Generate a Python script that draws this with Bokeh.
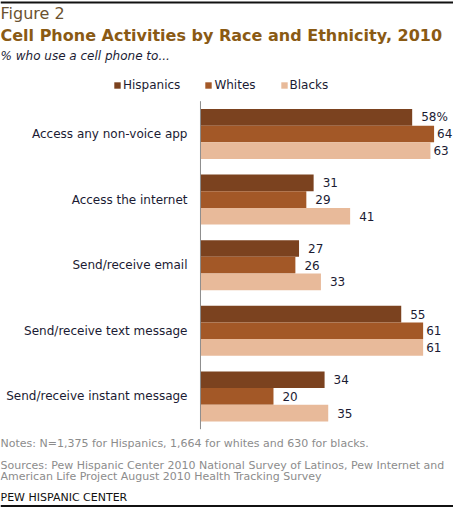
from bokeh.core.properties import value
from bokeh.embed import file_html
from bokeh.models import (ColumnDataSource, Label, Legend, LegendItem, Range1d,
                          Span)
from bokeh.plotting import figure
from bokeh.resources import INLINE

activities = [
    "Access any non-voice app",
    "Access the internet",
    "Send/receive email",
    "Send/receive text message",
    "Send/receive instant message",
]
series = ["Hispanics", "Whites", "Blacks"]
hispanics = [58, 31, 27, 55, 34]
whites = [64, 29, 26, 61, 20]
blacks = [63, 41, 33, 61, 35]
colors = ["#7b421f", "#a35827", "#e8ba9a"]

FONT = "DejaVu Sans"
TEXT = "#1b1b33"
W, H = 453, 508
Y_TOP, Y_BOTTOM = -2.035, 5.709   # data y at the canvas top / bottom edge
PX = H / (Y_BOTTOM - Y_TOP)       # pixels per group

# frame fills the whole canvas; 0% sits 200px from the left edge
p = figure(
    width=W, height=H,
    x_range=Range1d(-54.79, 69.32),
    y_range=Range1d(Y_BOTTOM, Y_TOP),
    output_backend="svg", toolbar_location=None,
    min_border=0, x_axis_location=None, y_axis_location=None,
)
p.grid.visible = False
p.outline_line_color = None

bar_h = 0.254
renderers = []
for i, (name, vals) in enumerate(zip(series, [hispanics, whites, blacks])):
    ypos = [k + (i - 1) * bar_h for k in range(len(activities))]
    labels = [f"{v}%" if (i == 0 and k == 0) else str(v) for k, v in enumerate(vals)]
    offs = [9 if v < 60 else 3 for v in vals]
    src = ColumnDataSource(dict(y=ypos, v=vals, lab=labels, off=offs))
    r = p.hbar(y="y", right="v", left=0, height=bar_h, source=src,
               fill_color=colors[i], line_color=None)
    renderers.append(r)
    p.text(x="v", y="y", text="lab", source=src, x_offset="off",
           text_font=value(FONT), text_font_size="12px", text_color=TEXT,
           text_baseline="middle", text_align="left")

# category axis: line at 0 and right-aligned labels
n = len(activities)
p.segment(x0=[0], y0=[-0.5], x1=[0], y1=[n - 0.5], line_color="#8c8c8c", line_width=1)
cat_src = ColumnDataSource(dict(x=[0] * n, y=list(range(n)), t=activities))
p.text(x="x", y="y", text="t", source=cat_src, x_offset=-13,
       text_font=value(FONT), text_font_size="12px", text_color=TEXT,
       text_baseline="middle", text_align="right")

legend = Legend(
    items=[LegendItem(label=s, renderers=[r]) for s, r in zip(series, renderers)],
    orientation="horizontal", location=(113, 416),
    glyph_width=8, glyph_height=8, label_standoff=2, spacing=24,
    label_text_font=FONT, label_text_font_size="12px", label_text_color=TEXT,
    label_height=12, padding=0, margin=0,
    border_line_color=None, background_fill_alpha=0,
)
p.add_layout(legend, "center")


def put(text, cx, cy, size, color, style="normal"):
    # cx, cy: canvas pixels from the top-left corner
    p.add_layout(Label(
        x=cx, y=H - cy, x_units="screen", y_units="screen",
        text=text, text_font=FONT, text_font_size=size, text_color=color,
        text_font_style=style, text_baseline="middle", text_align="left"))


put("Figure 2", 0, 13, "16px", "#6b5230")
put("Cell Phone Activities by Race and Ethnicity, 2010", 0, 35, "16px", "#8a5a14", "bold")
put("% who use a cell phone to...", 0, 55, "12px", TEXT, "italic")
put("Notes: N=1,375 for Hispanics, 1,664 for whites and 630 for blacks.", 0, 443, "11px", "#8c8c8c")
put("Sources: Pew Hispanic Center 2010 National Survey of Latinos, Pew Internet and", 0, 465, "11px", "#8c8c8c")
put("American Life Project August 2010 Health Tracking Survey", 0, 476, "11px", "#8c8c8c")
put("PEW HISPANIC CENTER", 0, 497, "11px", "#111111")

# rules above the figure label and under the credit line
for cy in (2, H - 2.5):
    p.add_layout(Span(location=Y_TOP + cy / PX, dimension="width",
                      line_color="#111111", line_width=2, level="overlay"))

open("out.html", "w").write(file_html(p, INLINE))
